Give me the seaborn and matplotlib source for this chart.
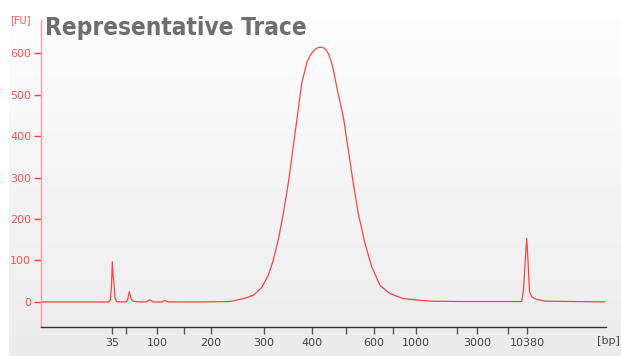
import numpy as np
import pandas as pd
import seaborn as sns
import matplotlib.pyplot as plt

# migration time (s) and fluorescence (FU)
time_s = [20.0, 33.5, 33.9, 34.1, 34.26, 34.45, 34.6, 34.8, 35.1, 35.6,
          37.0, 37.3, 37.66, 38.0, 38.4, 38.9, 39.5,
          41.0, 41.4, 41.7, 42.0, 42.4,
          44.3, 44.6, 44.8, 45.1, 45.5,
          51.8, 57.8, 60.46, 62.46, 64.14, 65.46, 66.46, 67.46, 68.46, 69.46,
          70.46, 71.34, 72.14, 73.14, 73.64, 74.14, 74.64, 75.14, 75.64, 76.14,
          76.64, 77.14, 77.64, 78.14, 78.64, 79.14,
          80.46, 81.46, 82.46, 83.46, 84.8, 86.14, 87.8, 89.8, 92.46, 95.8,
          97.8, 103.8, 114.8,
          116.14, 116.5, 116.9, 117.14, 117.4, 117.7, 118.14, 119.14, 120.8, 132.8]
fu = [0, 0, 5, 40, 97, 60, 45, 10, 1, 0,
      0, 4, 25, 8, 2, 1, 0,
      0, 3, 5, 3, 0,
      0, 3, 4, 1, 0,
      0, 1, 8, 16, 35, 64, 101, 150, 213, 286,
      375, 455, 527, 576, 590, 600, 607, 612, 614, 614,
      612, 606, 594, 576, 550, 519,
      447, 366, 286, 213, 141, 85, 40, 20, 8, 4,
      2, 1, 1,
      1, 30, 110, 153, 100, 25, 12, 6, 2, 0]

# ladder positions on the time axis
ladder_time = [34.26, 37.0, 43.26, 48.6, 53.94, 64.6, 74.26, 81.0, 86.6, 90.4,
               94.94, 103.2, 107.14, 113.4, 117.2]
ladder_label = ['35', '', '100', '', '200', '300', '400', '', '600', '',
                '1000', '', '3000', '', '10380']

y_ticks = [0, 100, 200, 300, 400, 500, 600]

sns.set_theme(style='white')
plt.rcParams['font.family'] = ['DejaVu Sans']

df = pd.DataFrame({'time': time_s, 'fu': fu})

fig = plt.figure(figsize=(6.21, 3.56), dpi=100)

# grey gradient panel behind everything
bg = fig.add_axes([9 / 621, 0, 1 - 9 / 621, 1], zorder=-2)
grad = np.linspace(0, 1, 256).reshape(-1, 1)
bg.imshow(grad, aspect='auto', cmap=plt.matplotlib.colors.LinearSegmentedColormap.from_list(
    'g', ['#ffffff', '#ececec']), extent=[0, 1, 0, 1], origin='upper')
bg.axis('off')

ax = fig.add_axes([41 / 621, 1 - 327 / 356, 565 / 621, (327 - 20) / 356])
ax.patch.set_alpha(0)

sns.lineplot(data=df, x='time', y='fu', ax=ax, color='#ff3030', lw=0.9, alpha=0.9)

ax.set_xlim(20, 133)
ax.set_ylim(-60.4, 680)
ax.set_xlabel('')
ax.set_ylabel('')

ax.set_xticks(ladder_time)
ax.set_xticklabels(ladder_label)
ax.set_yticks(y_ticks)

for s in ['top', 'right']:
    ax.spines[s].set_visible(False)
ax.spines['left'].set_color('#ff9a9a')
ax.spines['left'].set_linewidth(1.0)
ax.spines['bottom'].set_color('#333333')
ax.spines['bottom'].set_linewidth(1.0)

ax.tick_params(axis='y', colors='#ff4040', labelsize=8, length=5, width=1,
               direction='out', left=True, pad=2)
ax.tick_params(axis='x', colors='#555555', labelsize=8, length=5, width=1,
               direction='out', bottom=True, pad=3)
for t in ax.get_yticklabels():
    t.set_color('#ff5050')
for t in ax.get_xticklabels():
    t.set_color('#444444')

fig.text(45 / 621, 1 - 35 / 356, 'Representative Trace', fontsize=17.5,
         fontweight='bold', color='#6d6e71', fontstretch='condensed', va='baseline')
fig.text(10 / 621, 1 - 20 / 356, '[FU]', fontsize=7, color='#ff5050', va='center')
fig.text(597 / 621, 1 - 341 / 356, '[bp]', fontsize=8, color='#444444', va='center')

fig.savefig('out.png', dpi=100)
